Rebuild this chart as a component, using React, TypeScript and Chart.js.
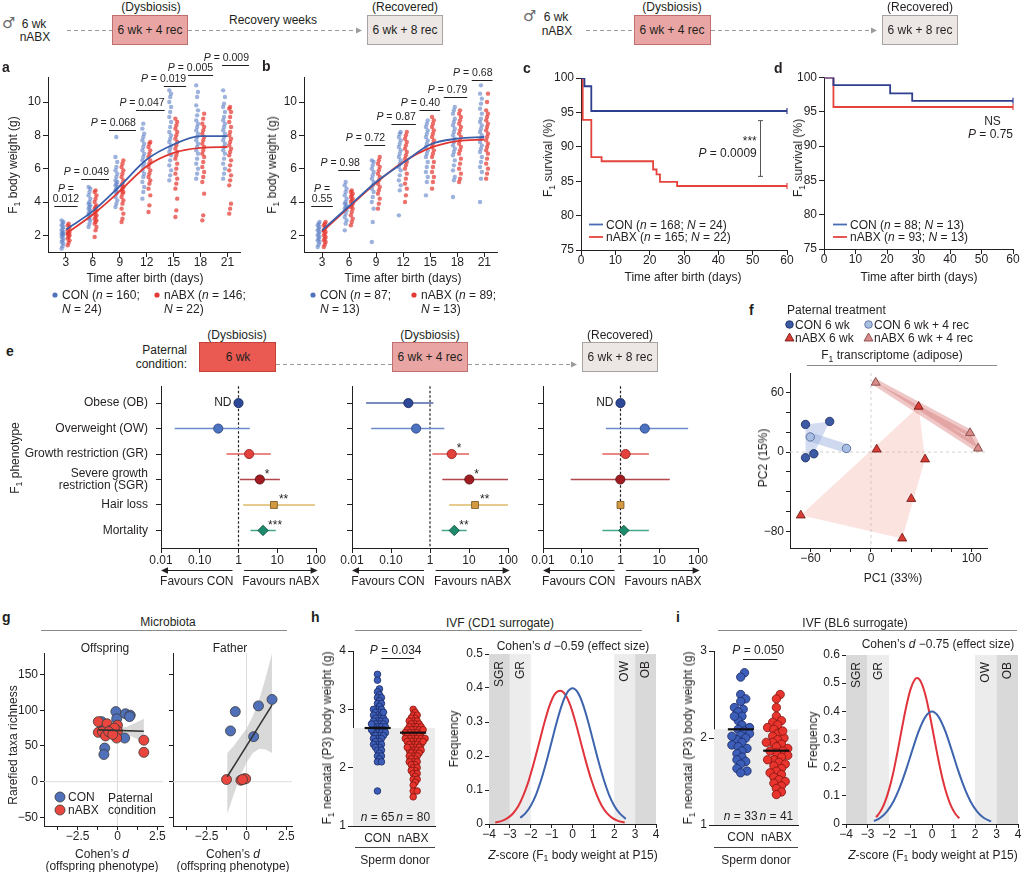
import React, { useEffect, useRef } from 'react';
import { Chart, registerables } from 'chart.js';

Chart.register(...registerables);

const INK = '#231f20';
const FONT = '"Liberation Sans", Arial, Helvetica, sans-serif';
Chart.defaults.font.family = FONT;
Chart.defaults.font.size = 12;
Chart.defaults.color = INK;

// ======================= DATA =======================
// a, b : F1 body weight (g) by day after birth
const days = [3, 6, 9, 12, 15, 18, 21];
const aCon = [
  [1.2, 1.35, 1.5, 1.6, 1.7, 1.8, 1.9, 2.0, 2.05, 2.1, 2.15, 2.2, 2.3, 2.4, 2.5, 2.6, 2.7, 2.8, 2.9],
  [2.5, 2.7, 2.9, 3.0, 3.1, 3.2, 3.3, 3.4, 3.5, 3.6, 3.7, 3.8, 3.9, 4.0, 4.2, 4.4, 4.6, 4.8, 4.9],
  [3.7, 3.9, 4.1, 4.3, 4.5, 4.6, 4.7, 4.8, 4.9, 5.0, 5.1, 5.2, 5.3, 5.5, 5.7, 5.9, 6.1, 6.4, 6.7, 7.9],
  [4.2, 4.6, 4.9, 5.2, 5.5, 5.7, 5.9, 6.1, 6.3, 6.5, 6.7, 6.9, 7.1, 7.3, 7.5, 7.7, 7.9, 8.1, 8.4, 8.7],
  [5.3, 5.6, 5.9, 6.2, 6.5, 6.8, 7.0, 7.2, 7.4, 7.6, 7.8, 8.0, 8.2, 8.5, 8.8, 9.1, 9.4, 9.7, 10.0, 10.3, 10.5, 10.7],
  [5.4, 5.7, 6.0, 6.3, 6.6, 6.9, 7.1, 7.3, 7.5, 7.7, 7.9, 8.1, 8.3, 8.5, 8.7, 8.9, 9.2, 9.5, 9.8, 10.3, 10.6, 11.0],
  [5.4, 5.7, 6.0, 6.3, 6.6, 6.9, 7.1, 7.3, 7.5, 7.7, 7.9, 8.1, 8.3, 8.5, 8.7, 8.9, 9.1, 9.4, 9.7, 9.9, 10.3, 10.7],
];
const aAbx = [
  [1.4, 1.55, 1.7, 1.8, 1.9, 2.0, 2.05, 2.1, 2.2, 2.3, 2.4, 2.5, 2.6, 2.7],
  [1.9, 2.3, 2.5, 2.7, 2.8, 2.9, 3.0, 3.1, 3.2, 3.3, 3.4, 3.5, 3.6, 3.7, 3.8, 4.0, 4.2, 4.4, 4.6, 4.7],
  [2.8, 3.0, 3.3, 3.6, 3.9, 4.1, 4.3, 4.5, 4.6, 4.7, 4.8, 4.9, 5.0, 5.1, 5.3, 5.5, 5.7, 5.9, 6.1, 6.3, 6.5],
  [3.4, 3.8, 4.4, 4.8, 5.1, 5.3, 5.5, 5.7, 5.9, 6.1, 6.3, 6.5, 6.7, 6.9, 7.1, 7.3, 7.5, 7.6],
  [3.1, 3.5, 4.2, 4.8, 5.1, 5.4, 5.7, 6.0, 6.3, 6.6, 6.8, 7.0, 7.2, 7.4, 7.6, 7.8, 8.0, 8.2, 8.4, 8.6, 8.8, 9.0],
  [2.9, 3.2, 4.5, 5.2, 5.5, 5.8, 6.1, 6.4, 6.7, 6.9, 7.1, 7.3, 7.5, 7.7, 7.9, 8.1, 8.3, 8.5, 8.7, 9.0, 9.3],
  [3.3, 3.6, 3.9, 5.0, 5.3, 5.6, 5.9, 6.2, 6.5, 6.8, 7.0, 7.2, 7.4, 7.6, 7.8, 8.0, 8.2, 8.5, 8.8, 9.1, 9.4, 9.6, 9.7],
];
const aConMean = [2.35, 3.45, 4.95, 6.55, 7.45, 7.95, 7.95];
const aAbxMean = [2.1, 3.25, 4.65, 6.15, 6.95, 7.25, 7.3];
const aP = ['0.012', '0.049', '0.068', '0.047', '0.019', '0.005', '0.009'];
const aBarY = [3.74, 5.4, 8.3, 9.5, 10.94, 11.6, 12.2];
const aBarFrom = [1.7, 4.7, 7.8, 10.8, 13.9, 16.6, 20.4];
const aBarTo = [4.3, 7.8, 10.8, 14.0, 16.4, 19.4, 23.4];

const bCon = [
  [1.3, 1.45, 1.6, 1.7, 1.8, 1.9, 2.0, 2.1, 2.2, 2.3, 2.4, 2.5, 2.6, 2.7, 2.8],
  [2.3, 2.7, 2.9, 3.1, 3.3, 3.5, 3.6, 3.7, 3.8, 3.9, 4.0, 4.2, 4.4, 4.6, 4.8, 5.0, 5.2],
  [1.6, 2.8, 3.6, 4.0, 4.3, 4.6, 4.8, 5.0, 5.2, 5.4, 5.6, 5.8, 6.0, 6.2, 6.4, 6.5],
  [3.2, 4.7, 5.0, 5.3, 5.6, 5.9, 6.1, 6.3, 6.5, 6.7, 6.9, 7.1, 7.3, 7.5, 7.7, 7.9, 8.1, 8.2],
  [4.4, 5.2, 5.5, 5.8, 6.1, 6.4, 6.7, 6.9, 7.1, 7.3, 7.5, 7.7, 7.9, 8.1, 8.3, 8.5, 8.7, 8.9],
  [4.3, 5.3, 5.5, 5.9, 6.2, 6.5, 6.8, 7.0, 7.2, 7.4, 7.6, 7.8, 8.0, 8.2, 8.4, 8.6, 8.8, 9.0, 9.3, 9.5, 9.7],
  [4.0, 5.4, 5.8, 6.1, 6.4, 6.7, 7.0, 7.2, 7.4, 7.6, 7.8, 8.0, 8.2, 8.4, 8.6, 8.8, 9.0, 9.3, 9.6, 9.9, 10.2, 10.5, 11.0],
];
const bAbx = [
  [1.3, 1.45, 1.6, 1.7, 1.8, 1.9, 2.0, 2.1, 2.2, 2.3, 2.4, 2.5, 2.6, 2.7, 2.8],
  [2.6, 2.8, 3.0, 3.2, 3.4, 3.6, 3.7, 3.8, 3.9, 4.0, 4.1, 4.2, 4.3, 4.4, 4.5, 4.6, 4.7],
  [3.6, 3.9, 4.2, 4.5, 4.7, 4.9, 5.1, 5.3, 5.5, 5.7, 5.9, 6.1, 6.3, 6.5, 6.7],
  [4.0, 4.4, 4.8, 5.1, 5.4, 5.7, 6.0, 6.2, 6.4, 6.6, 6.8, 7.0, 7.2, 7.4, 7.6, 7.8, 8.0, 8.2],
  [4.8, 5.2, 5.5, 5.8, 6.1, 6.4, 6.7, 6.9, 7.1, 7.3, 7.5, 7.7, 7.9, 8.1, 8.3, 8.5, 8.7, 8.9, 9.1],
  [5.2, 5.4, 5.7, 6.0, 6.3, 6.6, 6.9, 7.1, 7.3, 7.5, 7.7, 7.9, 8.1, 8.3, 8.5, 8.7, 8.9, 9.1, 9.3, 9.5],
  [5.4, 5.7, 6.0, 6.3, 6.6, 6.9, 7.1, 7.3, 7.5, 7.7, 7.9, 8.1, 8.3, 8.5, 8.7, 8.9, 9.1, 9.3, 9.5, 10.0, 10.5],
];
const bConMean = [2.3, 3.75, 5.2, 6.35, 7.45, 7.8, 7.9];
const bAbxMean = [2.2, 3.7, 5.15, 6.4, 7.25, 7.65, 7.75];
const bP = ['0.55', '0.98', '0.72', '0.87', '0.40', '0.79', '0.68'];
const bBarY = [3.74, 5.94, 7.4, 8.7, 9.54, 10.3, 11.3];
const bBarFrom = [1.8, 4.8, 7.7, 10.7, 13.8, 16.5, 19.6];
const bBarTo = [4.2, 7.2, 10.0, 13.4, 16.1, 19.1, 21.9];

// c, d : survival (%)
const cConDays = [0, 1, 3, 60];
const cConSurv = [100, 98.8, 95.2, 95.2];
const cAbxDays = [0, 0.5, 3, 6, 21, 22, 23, 28, 60];
const cAbxSurv = [100, 93.9, 88.5, 87.9, 86.7, 86.0, 84.9, 84.3, 84.3];
const dConDays = [0, 3, 21, 28, 60];
const dConSurv = [100, 98.9, 97.7, 96.6, 96.6];
const dAbxDays = [0, 3, 60];
const dAbxSurv = [100, 95.7, 95.7];

// e : odds ratios (est, CI)
const phenoLabels: any[] = ['Obese (OB)', 'Overweight (OW)', 'Growth restriction (GR)', ['Severe growth', 'restriction (SGR)'], 'Hair loss', 'Mortality'];
const e1Est = [1, 0.3, 1.88, 3.55, 8.2, 4.3];
const e1Lo = [null, 0.0226, 0.49, 1.08, 1.32, 2.04];
const e1Hi = [null, 1.96, 6.8, 11.7, 94, 9.2];
const e1Stars = ['', '', '', '*', '**', '***'];
const e2Est = [0.278, 0.44, 3.6, 10.2, 14.3, 4.2];
const e2Lo = [0.023, 0.031, 1.15, 2.07, 3.1, 2.0];
const e2Hi = [1.22, 2.33, 10, 100, 100, 8.7];
const e2Stars = ['', '', '*', '*', '**', '**'];
const e3Est = [1, 4.24, 1.35, 0.99, 1.0, 1.22];
const e3Lo = [null, 0.42, 0.34, 0.052, null, 0.34];
const e3Hi = [null, 55.6, 5.4, 18.7, null, 5.4];
const e3Stars = ['', '', '', '', '', ''];

// f : PCA (PC1, PC2)
const fConWk = [[-65, 28], [-41, 31], [-56.7, -1.7], [-65, -5.7]];
const fConRec = [[-60.3, 15.3], [-24.3, 3.7]];
const fAbxWk = [[47.3, 46], [5.7, 2.7], [53.7, -7.3], [40, -47.3], [31, -87.3], [-69.7, -64]];
const fAbxRec = [[4.7, 70.3], [98.3, 19.3], [106.3, 3.7]];

// g : Cohen's d vs rarefied richness
const gOffCon = [[-0.1, 98], [0.5, 95], [0.8, 93], [0.75, 91], [-0.05, 88], [-1.0, 84], [-0.85, 77], [0.45, 61], [-0.8, 47], [-0.85, 38], [-0.9, 72]];
const gOffAbx = [[-1.2, 84], [-1.2, 69], [-0.65, 81], [-0.4, 72], [-0.95, 70], [0.0, 79], [0.0, 71], [-0.05, 61], [-0.75, 64], [-0.2, 75], [1.65, 58], [1.65, 41], [-0.55, 70], [-0.3, 66]];
const gOffLineX = [-1.2, 1.65];
const gOffLineY = [72.5, 70.5];
const gOffBandX = [-1.2, -0.6, 0, 0.6, 1.2, 1.65];
const gOffBandLo = [66, 68.5, 69, 66, 60, 54];
const gOffBandHi = [79, 76.5, 75, 77, 83, 88];
const gFatCon = [[-1.0, 71], [-0.7, 98], [0.45, 63], [0.75, 106], [1.6, 115]];
const gFatAbx = [[-1.25, 3], [-0.35, 2], [-0.15, 4], [-0.05, 4], [-0.25, 3]];
const gFatLineX = [-1.2, 1.6];
const gFatLineY = [7, 107];
const gFatBandX = [-1.2, -0.8, -0.4, 0, 0.4, 0.8, 1.2, 1.6];
const gFatBandLo = [-45, -18, 7, 27, 40, 46, 45, 40];
const gFatBandHi = [40, 50, 62, 74, 92, 115, 145, 180];

// h, i : neonatal weights and effect-size densities
const hCon = [3.6, 3.5, 3.35, 3.3, 3.25, 3.2, 3.2, 3.15, 3.1, 3.1, 3.05, 3.0, 3.0, 3.0, 2.95, 2.95, 2.9, 2.9, 2.9, 2.85, 2.85, 2.85, 2.8, 2.8, 2.8, 2.8, 2.75, 2.75, 2.75, 2.7, 2.7, 2.7, 2.7, 2.65, 2.65, 2.65, 2.6, 2.6, 2.6, 2.6, 2.55, 2.55, 2.55, 2.5, 2.5, 2.5, 2.45, 2.45, 2.4, 2.4, 2.4, 2.35, 2.35, 2.3, 2.3, 2.25, 2.2, 2.2, 2.15, 2.1, 2.1, 2.65, 2.75, 1.6, 2.95];
const hAbx = [3.0, 2.95, 2.9, 2.9, 2.85, 2.85, 2.8, 2.8, 2.8, 2.75, 2.75, 2.75, 2.7, 2.7, 2.7, 2.7, 2.65, 2.65, 2.65, 2.65, 2.6, 2.6, 2.6, 2.6, 2.6, 2.55, 2.55, 2.55, 2.55, 2.5, 2.5, 2.5, 2.5, 2.5, 2.45, 2.45, 2.45, 2.45, 2.4, 2.4, 2.4, 2.4, 2.35, 2.35, 2.35, 2.3, 2.3, 2.3, 2.3, 2.25, 2.25, 2.25, 2.2, 2.2, 2.2, 2.15, 2.15, 2.1, 2.1, 2.1, 2.05, 2.05, 2.0, 2.0, 1.95, 1.95, 1.9, 1.9, 1.85, 1.8, 1.8, 1.75, 1.7, 1.6, 1.6, 1.5, 2.65, 2.5, 2.45, 2.35];
const hConMean = 2.68;
const hAbxMean = 2.6;
const iCon = [2.75, 2.7, 2.5, 2.45, 2.42, 2.35, 2.33, 2.3, 2.25, 2.2, 2.15, 2.12, 2.1, 2.08, 2.05, 2.03, 2.0, 1.98, 1.95, 1.92, 1.9, 1.88, 1.85, 1.82, 1.78, 1.75, 1.73, 1.7, 1.65, 1.62, 1.6, 2.25, 2.02];
const iAbx = [2.5, 2.45, 2.35, 2.25, 2.2, 2.18, 2.15, 2.12, 2.1, 2.05, 2.02, 2.0, 1.98, 1.95, 1.93, 1.9, 1.88, 1.85, 1.83, 1.8, 1.78, 1.75, 1.72, 1.7, 1.68, 1.65, 1.62, 1.6, 1.58, 1.55, 1.52, 1.5, 1.48, 1.45, 1.42, 1.38, 1.35, 1.95, 1.85, 1.75, 2.08];
const iConMean = 2.1;
const iAbxMean = 1.854;

const hBlueX = [-2.5, -2.25, -2, -1.75, -1.5, -1.25, -1, -0.75, -0.5, -0.25, 0, 0.25, 0.5, 0.75, 1, 1.25, 1.5, 1.75, 2, 2.25, 2.55];
const hBlueY = [0.018, 0.032, 0.054, 0.086, 0.13, 0.183, 0.242, 0.301, 0.352, 0.387, 0.399, 0.387, 0.352, 0.301, 0.242, 0.183, 0.13, 0.086, 0.054, 0.032, 0.015];
const hRedX = [-3.7, -3.35, -3.1, -2.85, -2.6, -2.35, -2.1, -1.85, -1.6, -1.35, -1.1, -0.85, -0.59, -0.35, -0.1, 0.15, 0.4, 0.65, 0.9, 1.15, 1.4, 1.65, 1.9, 2.15, 2.5];
const hRedY = [0.004, 0.01, 0.018, 0.031, 0.052, 0.085, 0.127, 0.18, 0.238, 0.297, 0.348, 0.382, 0.392, 0.381, 0.348, 0.298, 0.24, 0.182, 0.13, 0.087, 0.054, 0.032, 0.018, 0.01, 0.004];
const iBlueX = [-2.7, -2.4, -2.1, -1.8, -1.5, -1.2, -0.9, -0.6, -0.3, 0, 0.3, 0.6, 0.9, 1.2, 1.5, 1.8, 2.1, 2.4, 2.75];
const iBlueY = [0.0104, 0.0224, 0.044, 0.079, 0.13, 0.194, 0.266, 0.333, 0.381, 0.399, 0.381, 0.333, 0.266, 0.194, 0.13, 0.079, 0.044, 0.0224, 0.009];
const iRedX = [-2.6, -2.4, -2.2, -2.0, -1.8, -1.6, -1.4, -1.2, -1.0, -0.8, -0.69, -0.5, -0.3, -0.1, 0.1, 0.3, 0.5, 0.7, 0.9, 1.1, 1.27];
const iRedY = [0.024, 0.044, 0.0758, 0.122, 0.183, 0.258, 0.339, 0.416, 0.478, 0.513, 0.518, 0.502, 0.456, 0.386, 0.306, 0.227, 0.157, 0.102, 0.0614, 0.0347, 0.0203];

// ======================= LAYOUT =======================
const BOX: any = {
  a: { x: 0, y: 50, w: 262, h: 225 }, b: { x: 262, y: 50, w: 262, h: 225 },
  c: { x: 524, y: 60, w: 275, h: 215 }, d: { x: 775, y: 60, w: 249, h: 215 },
  e1: { x: 20, y: 372, w: 310, h: 218 }, e2: { x: 335, y: 372, w: 190, h: 218 }, e3: { x: 525, y: 372, w: 195, h: 218 },
  f: { x: 740, y: 365, w: 260, h: 207 },
  g1: { x: 0, y: 645, w: 170, h: 205 }, g2: { x: 165, y: 645, w: 135, h: 205 },
  h1: { x: 325, y: 640, w: 120, h: 210 }, h2: { x: 455, y: 640, w: 210, h: 210 },
  i1: { x: 690, y: 640, w: 118, h: 210 }, i2: { x: 812, y: 640, w: 212, h: 210 },
};
const PLOT: any = {
  a: { l: 48, t: 77, r: 240, b: 252 }, b: { l: 304, t: 77, r: 497, b: 252 },
  c: { l: 581, t: 78, r: 787, b: 250 }, d: { l: 824, t: 77.5, r: 1013, b: 249 },
  e1: { l: 161, t: 378, r: 316, b: 548 }, e2: { l: 352, t: 378, r: 508, b: 548 }, e3: { l: 543, t: 378, r: 698, b: 548 },
  f: { l: 790, t: 371, r: 987, b: 548 },
  g1: { l: 44, t: 653, r: 163, b: 826 }, g2: { l: 173, t: 653, r: 292, b: 826 },
  h1: { l: 353, t: 651, r: 435, b: 826 }, h2: { l: 489, t: 654, r: 656, b: 824 },
  i1: { l: 714, t: 651, r: 798, b: 825 }, i2: { l: 846, t: 655, r: 1018, b: 824 },
};

// ======================= HELPERS =======================
const fmt = (v: number) => (v < 0 ? '\u2212' + String(Math.abs(v)) : String(v));

function parts(s: string) {
  const out: any[] = [];
  const re = /_([^_]+)_|~([^~]+)~|([^_~]+)/g;
  let m: any;
  while ((m = re.exec(s))) {
    if (m[1]) out.push({ t: m[1], it: true });
    else if (m[2]) out.push({ t: m[2], sub: true });
    else out.push({ t: m[3] });
  }
  return out;
}
function rich(ctx: any, s: string, x: number, y: number, o: any = {}) {
  const size = o.size || 12;
  const ps = parts(s);
  const fontOf = (p: any) => `${p.it ? 'italic ' : ''}${o.bold ? 'bold ' : ''}${p.sub ? size * 0.72 : size}px ${FONT}`;
  let w = 0;
  ps.forEach((p) => { ctx.font = fontOf(p); p.w = ctx.measureText(p.t).width; w += p.w; });
  ctx.save();
  ctx.translate(x, y);
  if (o.rot) ctx.rotate(o.rot);
  ctx.fillStyle = o.color || INK;
  ctx.textAlign = 'left';
  ctx.textBaseline = 'middle';
  let cx = o.align === 'center' ? -w / 2 : o.align === 'right' ? -w : 0;
  ps.forEach((p) => { ctx.font = fontOf(p); ctx.fillText(p.t, cx, p.sub ? size * 0.28 : 0); cx += p.w; });
  ctx.restore();
}
function seg(ctx: any, x1: number, y1: number, x2: number, y2: number, color = INK, w = 1, dash: number[] = []) {
  ctx.save();
  ctx.strokeStyle = color; ctx.lineWidth = w; ctx.setLineDash(dash);
  ctx.beginPath(); ctx.moveTo(x1, y1); ctx.lineTo(x2, y2); ctx.stroke();
  ctx.restore();
}
function arrow(ctx: any, x1: number, y: number, x2: number) {
  const d = x2 > x1 ? 1 : -1;
  seg(ctx, x1, y, x2 - d * 4, y, INK, 1);
  ctx.save(); ctx.fillStyle = INK; ctx.beginPath();
  ctx.moveTo(x2, y); ctx.lineTo(x2 - d * 7, y - 3.2); ctx.lineTo(x2 - d * 7, y + 3.2); ctx.closePath(); ctx.fill();
  ctx.restore();
}
function hull(pts: number[][]) {
  const p = pts.slice().sort((a, b) => a[0] - b[0] || a[1] - b[1]);
  if (p.length < 3) return p;
  const cross = (o: any, a: any, b: any) => (a[0] - o[0]) * (b[1] - o[1]) - (a[1] - o[1]) * (b[0] - o[0]);
  const lower: any[] = [];
  for (const q of p) { while (lower.length >= 2 && cross(lower[lower.length - 2], lower[lower.length - 1], q) <= 0) lower.pop(); lower.push(q); }
  const upper: any[] = [];
  for (let i = p.length - 1; i >= 0; i--) { const q = p[i]; while (upper.length >= 2 && cross(upper[upper.length - 2], upper[upper.length - 1], q) <= 0) upper.pop(); upper.push(q); }
  upper.pop(); lower.pop();
  return lower.concat(upper);
}
function poly(ctx: any, pts: number[][], fill: string, lw = 0) {
  ctx.save();
  ctx.beginPath();
  pts.forEach((q, i) => (i ? ctx.lineTo(q[0], q[1]) : ctx.moveTo(q[0], q[1])));
  ctx.closePath();
  ctx.fillStyle = fill; ctx.fill();
  if (lw) { ctx.strokeStyle = fill; ctx.lineWidth = lw; ctx.lineJoin = 'round'; ctx.lineCap = 'round'; ctx.stroke(); }
  ctx.restore();
}
// beeswarm layout (horizontal offsets only; values untouched)
function swarm(values: number[], pxY: number, pxX: number, r: number, tight: number) {
  const order = values.map((_, i) => i).sort((a, b) => values[a] - values[b]);
  const placed: any[] = [];
  const offs = values.map(() => 0);
  const step = r * 0.3;
  const dmin = 2 * r * tight;
  for (const i of order) {
    const yp = values[i] * pxY;
    let best = 0;
    for (let k = 0; k < 400; k++) {
      const cand = (k % 2 ? 1 : -1) * Math.ceil(k / 2) * step;
      if (placed.every((p) => (p.x - cand) ** 2 + (p.y - yp) ** 2 >= dmin * dmin)) { best = cand; break; }
    }
    placed.push({ x: best, y: yp });
    offs[i] = best / pxX;
  }
  return offs;
}
function axis(o: any) {
  const ticks: number[] = o.ticks;
  const marks = o.marks !== false;
  return {
    type: o.type || 'linear',
    position: o.pos,
    min: o.min, max: o.max, reverse: !!o.reverse,
    offset: false,
    border: { display: o.border !== false, color: INK, width: 1 },
    grid: { display: true, drawOnChartArea: false, drawTicks: marks, tickLength: marks ? (o.tl ?? 5) : 0, color: INK, lineWidth: 1 },
    ticks: {
      autoSkip: false, maxRotation: 0, minRotation: 0, padding: o.pad ?? 2, color: INK,
      font: { family: FONT, size: o.fs ?? 12, lineHeight: o.lh ?? 1 },
      callback: (_v: any, i: number) => (o.labels ? o.labels[i] : fmt(ticks[i])),
    },
    afterBuildTicks: (s: any) => { s.ticks = ticks.map((v) => ({ value: v })); },
    afterFit: (s: any) => { if (o.pos === 'left') s.width = o.fit; else s.height = o.fit; },
  };
}
function cfg(box: any, plot: any, datasets: any[], xo: any, yo: any, plugins: any[] = []) {
  return {
    type: 'scatter',
    data: { datasets },
    options: {
      responsive: false, animation: false, events: [],
      layout: { padding: { left: 0, top: plot.t - box.y, right: box.x + box.w - plot.r, bottom: 0 } },
      plugins: { legend: { display: false }, tooltip: { enabled: false }, title: { display: false } },
      scales: {
        x: axis({ ...xo, pos: 'bottom', fit: box.y + box.h - plot.b }),
        y: axis({ ...yo, pos: 'left', fit: plot.l - box.x }),
      },
    },
    plugins,
  };
}
const XY = (ch: any) => [(v: number) => ch.scales.x.getPixelForValue(v), (v: number) => ch.scales.y.getPixelForValue(v)];

// ======================= CHART CONFIGS =======================
function growthCfg(k: string, con: number[][], abx: number[][], conMean: number[], abxMean: number[], pv: string[], barY: number[], barFrom: number[], barTo: number[]) {
  const jit = [-0.1, 0, 0.1];
  const conPts: any[] = [];
  const abxPts: any[] = [];
  con.forEach((col, i) => col.forEach((v, j) => conPts.push({ x: days[i] - 0.38 + jit[j % 3], y: v })));
  abx.forEach((col, i) => col.forEach((v, j) => abxPts.push({ x: days[i] + 0.3 + jit[j % 3], y: v })));
  const ds = [
    { type: 'line', data: days.map((d, i) => ({ x: d, y: conMean[i] })), borderColor: '#3a5fab', borderWidth: 1.8, pointRadius: 0, cubicInterpolationMode: 'monotone' },
    { type: 'line', data: days.map((d, i) => ({ x: d, y: abxMean[i] })), borderColor: '#e1362f', borderWidth: 1.8, pointRadius: 0, cubicInterpolationMode: 'monotone' },
    { data: conPts, pointRadius: 2.2, backgroundColor: 'rgba(92,126,196,0.6)', borderWidth: 0 },
    { data: abxPts, pointRadius: 2.2, backgroundColor: 'rgba(229,57,50,0.72)', borderWidth: 0 },
  ];
  const plug = {
    id: 'pv',
    afterDraw(ch: any) {
      const [X, Y] = XY(ch);
      const ctx = ch.ctx;
      pv.forEach((p, i) => {
        const x1 = X(barFrom[i]), x2 = X(barTo[i]), y = Math.round(Y(barY[i])) + 0.5;
        seg(ctx, x1, y, x2, y, INK, 1);
        if (i === 0) {
          rich(ctx, '_P_ =', (x1 + x2) / 2, y - 17.5, { align: 'center', size: 10.5 });
          rich(ctx, p, (x1 + x2) / 2, y - 7.5, { align: 'center', size: 10.5 });
        } else rich(ctx, '_P_ = ' + p, x2, y - 7, { align: 'right', size: 10.5 });
      });
    },
  };
  return cfg(BOX[k], PLOT[k], ds, { min: 1, max: 22.4, ticks: days, tl: 5, pad: 0 }, { min: 1, max: 11.5, ticks: [2, 4, 6, 8, 10], tl: 5, pad: 2 }, [plug]);
}

function survCfg(k: string, conX: number[], conY: number[], abxX: number[], abxY: number[], annot: (ch: any) => void) {
  const ds = [
    { type: 'line', data: conX.map((x, i) => ({ x, y: conY[i] })), stepped: 'before', borderColor: '#2e3f8f', borderWidth: 1.8, pointRadius: 0 },
    { type: 'line', data: abxX.map((x, i) => ({ x, y: abxY[i] })), stepped: 'before', borderColor: '#e4443c', borderWidth: 1.8, pointRadius: 0 },
  ];
  const plug = {
    id: 'surv',
    afterDraw(ch: any) {
      const [X, Y] = XY(ch);
      seg(ch.ctx, X(60), Y(conY[conY.length - 1]) - 3, X(60), Y(conY[conY.length - 1]) + 3, '#2e3f8f', 1.2);
      seg(ch.ctx, X(60), Y(abxY[abxY.length - 1]) - 3, X(60), Y(abxY[abxY.length - 1]) + 3, '#e4443c', 1.2);
      annot(ch);
    },
  };
  return cfg(BOX[k], PLOT[k], ds, { min: 0, max: 60, ticks: [0, 10, 20, 30, 40, 50, 60], tl: 5, pad: 0 }, { min: 75, max: 100, ticks: [75, 80, 85, 90, 95, 100], tl: 5, pad: 2 }, [plug]);
}

const rowFill = ['#2c4896', '#4c72c1', '#e3413b', '#a11c21', '#d49a42', '#1e8b6d'];
const rowEdge = ['#142457', '#243f7c', '#8c1d19', '#560c0f', '#73501c', '#0c4536'];
const rowLine = ['#4b67a6', '#6c8ccc', '#e6605a', '#b0474a', '#dcbb69', '#45a88d'];
const rowShape = ['circle', 'circle', 'circle', 'circle', 'rect', 'rectRot'];
const rowRad = [4.6, 4.6, 4.6, 4.6, 4.9, 5.2];

function forestCfg(k: string, est: number[], lo: any[], hi: any[], stars: string[], nd: number[], showLabels: boolean) {
  const ds: any[] = [
    { data: est.map((v, r) => ({ x: v, y: r })), pointStyle: rowShape, pointRadius: rowRad, backgroundColor: rowFill, borderColor: rowEdge, borderWidth: 0.8 },
  ];
  est.forEach((_, r) => {
    if (lo[r] != null) ds.push({ type: 'line', data: [{ x: lo[r], y: r }, { x: hi[r], y: r }], borderColor: rowLine[r], borderWidth: 1.5, pointRadius: 0 });
  });
  const plug = {
    id: 'forest',
    beforeDatasetsDraw(ch: any) {
      const [X] = XY(ch);
      const ca = ch.chartArea;
      seg(ch.ctx, X(1), ca.top, X(1), ca.bottom, INK, 1.2, [2.5, 2]);
    },
    afterDraw(ch: any) {
      const [X, Y] = XY(ch);
      const ctx = ch.ctx, ca = ch.chartArea;
      est.forEach((v, r) => { if (stars[r]) rich(ctx, stars[r], X(v) + 5, Y(r) - 5, { size: 12 }); });
      nd.forEach((r) => rich(ctx, 'ND', X(est[r]) - 7, Y(r), { align: 'right' }));
      const ay = Math.round(ca.bottom + 22) + 0.5;
      arrow(ctx, X(0.7), ay, X(0.01));
      arrow(ctx, X(1.4), ay, X(110));
      rich(ctx, 'Favours CON', (X(0.7) + X(0.01)) / 2, ca.bottom + 34, { align: 'center' });
      rich(ctx, 'Favours nABX', (X(1.4) + X(110)) / 2, ca.bottom + 34, { align: 'center' });
    },
  };
  return cfg(BOX[k], PLOT[k], ds,
    { type: 'logarithmic', min: 0.01, max: 100, ticks: [0.01, 0.1, 1, 10, 100], labels: ['0.01', '0.10', '1', '10', '100'], tl: 5, pad: 2 },
    { min: -0.66, max: 5.69, reverse: true, ticks: [0, 1, 2, 3, 4, 5], labels: showLabels ? phenoLabels : ['', '', '', '', '', ''], tl: 5, pad: 8, lh: 1.05 },
    [plug]);
}

function pcaCfg() {
  const toP = (a: number[][]) => a.map(([x, y]) => ({ x, y }));
  const ds = [
    { data: toP(fAbxRec), pointStyle: 'triangle', pointRadius: 5.2, backgroundColor: '#d88c89', borderColor: '#7a3e3c', borderWidth: 0.8 },
    { data: toP(fAbxWk), pointStyle: 'triangle', pointRadius: 5.2, backgroundColor: '#d73c35', borderColor: '#6a1411', borderWidth: 0.8 },
    { data: toP(fConRec), pointStyle: 'circle', pointRadius: 4.2, backgroundColor: '#a8bee2', borderColor: '#4d6190', borderWidth: 0.8 },
    { data: toP(fConWk), pointStyle: 'circle', pointRadius: 4.2, backgroundColor: '#3c59a4', borderColor: '#17275a', borderWidth: 0.8 },
  ];
  const plug = {
    id: 'pca',
    beforeDatasetsDraw(ch: any) {
      const [X, Y] = XY(ch);
      const ctx = ch.ctx, ca = ch.chartArea;
      seg(ctx, X(0), ca.top, X(0), ca.bottom, '#d0d0d0', 1, [3, 3]);
      seg(ctx, ca.left, Y(0), ca.right, Y(0), '#d0d0d0', 1, [3, 3]);
      const px = (a: number[][]) => a.map(([x, y]) => [X(x), Y(y)]);
      poly(ctx, hull(px(fAbxWk)), 'rgba(244,168,158,0.32)');
      poly(ctx, hull(px(fAbxRec)), 'rgba(214,122,120,0.42)', 7);
      poly(ctx, hull(px(fConWk)), 'rgba(158,178,224,0.45)');
      poly(ctx, hull(px(fConRec)), 'rgba(158,178,224,0.5)', 9);
    },
  };
  const xt = [-60, -40, -20, 0, 20, 40, 60, 80, 100];
  const yt = [-80, -60, -40, -20, 0, 20, 40, 60];
  return cfg(BOX.f, PLOT.f, ds,
    { min: -80.4, max: 115.2, ticks: xt, labels: xt.map((v) => ([-60, 0, 100].includes(v) ? fmt(v) : '')), tl: 4, pad: 1 },
    { min: -97, max: 80, ticks: yt, labels: yt.map((v) => ([-80, 0, 60].includes(v) ? fmt(v) : '')), tl: 4, pad: 2 },
    [plug]);
}

function gCfg(k: string, con: number[][], abx: number[][], lx: number[], ly: number[], bx: number[], blo: number[], bhi: number[], showY: boolean) {
  const toP = (a: number[][]) => a.map(([x, y]) => ({ x, y }));
  const ds = [
    { type: 'line', data: lx.map((x, i) => ({ x, y: ly[i] })), borderColor: '#333333', borderWidth: 1.6, pointRadius: 0 },
    { data: toP(abx), pointRadius: 5, backgroundColor: '#e9463f', borderColor: '#3a3a3a', borderWidth: 0.8 },
    { data: toP(con), pointRadius: 5, backgroundColor: '#5070b9', borderColor: '#3a3a3a', borderWidth: 0.8 },
  ];
  const plug = {
    id: 'g',
    beforeDatasetsDraw(ch: any) {
      const [X, Y] = XY(ch);
      const ctx = ch.ctx, ca = ch.chartArea;
      seg(ctx, X(0), ca.top, X(0), ca.bottom, '#dddddd', 1);
      seg(ctx, ca.left, Y(0), ca.right, Y(0), '#dddddd', 1);
      const pts = bx.map((x, i) => [X(x), Y(bhi[i])]).concat(bx.map((x, i) => [X(x), Y(blo[i])]).reverse());
      poly(ctx, pts, 'rgba(185,185,185,0.55)');
    },
  };
  const xt = [-3.75, -2.5, -1.25, 0, 1.25, 2.5];
  const yt = [-50, 0, 50, 100, 150];
  return cfg(BOX[k], PLOT[k], ds,
    { min: -4.6, max: 2.85, ticks: xt, labels: ['', '\u22122.5', '', '0', '', '2.5'], tl: 4, pad: 1 },
    { min: -62, max: 180, ticks: yt, labels: showY ? yt.map(fmt) : ['', '', '', '', ''], tl: 4, pad: 2 },
    [plug]);
}

function dotCfg(k: string, con: number[], abx: number[], conMean: number, abxMean: number, pText: string, pY: number, barY: number, barFrom: number, barTo: number, yMax: number, yTicks: number[], r: number, tight: number, nCon: string, nAbx: string) {
  const box = BOX[k], plot = PLOT[k];
  const pxY = (plot.b - plot.t) / (yMax - 1);
  const xMin = k === 'h1' ? -0.685 : -0.748;
  const xMax = k === 'h1' ? 1.61 : 1.605;
  const pxX = (plot.r - plot.l) / (xMax - xMin);
  const oc = swarm(con, pxY, pxX, r, tight);
  const oa = swarm(abx, pxY, pxX, r, tight);
  const ds = [
    { type: 'line', data: [{ x: -0.36, y: conMean }, { x: 0.37, y: conMean }], borderColor: '#111111', borderWidth: 2.2, pointRadius: 0 },
    { type: 'line', data: [{ x: 0.63, y: abxMean }, { x: 1.36, y: abxMean }], borderColor: '#111111', borderWidth: 2.2, pointRadius: 0 },
    { data: con.map((v, i) => ({ x: oc[i], y: v })), pointRadius: r, backgroundColor: '#3d5eb8', borderColor: '#1b2a63', borderWidth: 0.8 },
    { data: abx.map((v, i) => ({ x: 1 + oa[i], y: v })), pointRadius: r, backgroundColor: '#e8342d', borderColor: '#7d1410', borderWidth: 0.8 },
  ];
  const plug = {
    id: 'dot',
    beforeDatasetsDraw(ch: any) {
      const [, Y] = XY(ch);
      const ca = ch.chartArea;
      ch.ctx.save(); ch.ctx.fillStyle = '#ececec';
      ch.ctx.fillRect(ca.left, Y(conMean), ca.right - ca.left, Y(1) - Y(conMean));
      ch.ctx.restore();
    },
    afterDraw(ch: any) {
      const [X, Y] = XY(ch);
      const ctx = ch.ctx, ca = ch.chartArea;
      const y = Math.round(Y(barY)) + 0.5;
      seg(ctx, X(barFrom), y, X(barTo), y, INK, 1);
      rich(ctx, '_P_ = ' + pText, (X(barFrom) + X(barTo)) / 2 - 2, Y(pY), { align: 'center' });
      rich(ctx, '_n_ = ' + nCon, X(0), ca.bottom - 8.5, { align: 'center' });
      rich(ctx, '_n_ = ' + nAbx, X(1), ca.bottom - 8.5, { align: 'center' });
    },
  };
  return cfg(box, plot, ds,
    { min: xMin, max: xMax, ticks: [0, 1], labels: ['CON', 'nABX'], marks: false, pad: 7 },
    { min: 1, max: yMax, ticks: yTicks, tl: 5, pad: 2 },
    [plug]);
}

function densCfg(k: string, bx: number[], by: number[], rx: number[], ry: number[], yMax: number, yTicks: number[]) {
  const ds = [
    { type: 'line', data: bx.map((x, i) => ({ x, y: by[i] })), borderColor: '#3d64ad', borderWidth: 2, pointRadius: 0, cubicInterpolationMode: 'monotone' },
    { type: 'line', data: rx.map((x, i) => ({ x, y: ry[i] })), borderColor: '#e0333b', borderWidth: 2, pointRadius: 0, cubicInterpolationMode: 'monotone' },
  ];
  const plug = {
    id: 'dens',
    beforeDatasetsDraw(ch: any) {
      const [X] = XY(ch);
      const ctx = ch.ctx, ca = ch.chartArea;
      const bands = [[-4, -3, '#d9d9d9', 'SGR'], [-3, -2, '#ececec', 'GR'], [2, 3, '#ececec', 'OW'], [3, 4, '#d9d9d9', 'OB']];
      bands.forEach(([a, b, c]: any) => { ctx.save(); ctx.fillStyle = c; ctx.fillRect(X(a), ca.top, X(b) - X(a), ca.bottom - ca.top); ctx.restore(); });
      bands.forEach(([a, b, , t]: any) => rich(ctx, t, (X(a) + X(b)) / 2, ca.top + 7, { rot: -Math.PI / 2, align: 'right' }));
    },
  };
  return cfg(BOX[k], PLOT[k], ds,
    { min: -4, max: 4, ticks: [-4, -3, -2, -1, 0, 1, 2, 3, 4], tl: 4, pad: 1 },
    { min: 0, max: yMax, ticks: yTicks, labels: yTicks.map((v) => (v === 0 ? '0' : v.toFixed(1))), tl: 4, pad: 2 },
    [plug]);
}

// ======================= COMPONENTS =======================
function ChartBox({ b, make }: any) {
  const ref = useRef<HTMLCanvasElement>(null);
  useEffect(() => {
    const ch = new Chart(ref.current as any, make());
    return () => ch.destroy();
  }, []);
  return <canvas ref={ref} width={b.w} height={b.h} style={{ position: 'absolute', left: b.x, top: b.y, width: b.w, height: b.h }} />;
}

function richNodes(s: string) {
  return parts(s).map((p, i) =>
    p.it ? <i key={i}>{p.t}</i> : p.sub ? <span key={i} style={{ fontSize: '0.72em', position: 'relative', top: '0.3em' }}>{p.t}</span> : <span key={i}>{p.t}</span>
  );
}

function T({ x, y, s, a = 'left', size = 12, rot = false, bold = false, color = INK, family = FONT }: any) {
  const tx = rot || a === 'center' ? '-50%' : a === 'right' ? '-100%' : '0';
  return (
    <div style={{ position: 'absolute', left: x, top: y, transform: `translate(${tx}, -50%)${rot ? ' rotate(-90deg)' : ''}`, whiteSpace: 'nowrap', fontSize: size, lineHeight: 1, fontFamily: family, fontWeight: bold ? 700 : 400, color }}>
      {richNodes(s)}
    </div>
  );
}

const annotC = (ch: any) => {
  const [X, Y] = XY(ch);
  const ctx = ch.ctx;
  const x = Math.round(X(52)) + 0.5;
  seg(ctx, x, Y(93.8), x, Y(85.7), '#555', 1);
  seg(ctx, x - 2.5, Y(93.8), x + 2.5, Y(93.8), '#555', 1);
  seg(ctx, x - 2.5, Y(85.7), x + 2.5, Y(85.7), '#555', 1);
  rich(ctx, '***', X(51.2), Y(90.75), { align: 'right' });
  rich(ctx, '_P_ = 0.0009', X(51.2), Y(88.95), { align: 'right' });
};
const annotD = (ch: any) => {
  const [X, Y] = XY(ch);
  rich(ch.ctx, 'NS', X(53.5), Y(93.5), { align: 'center' });
  rich(ch.ctx, '_P_ = 0.75', X(60), Y(91.6), { align: 'right' });
};

const MALE = '\u2642\uFE0E';
const SYMFONT = '"DejaVu Sans", "Liberation Sans", sans-serif';

export default function App() {
  const dash = { stroke: '#9b9b9b', strokeWidth: 1, strokeDasharray: '4 3' };
  const rule = { stroke: '#8a8a8a', strokeWidth: 1 };
  return (
    <div style={{ position: 'absolute', left: 0, top: 0, width: 1024, height: 872, background: '#fff', overflow: 'hidden', fontFamily: FONT, color: INK }}>
      <svg width={1024} height={872} style={{ position: 'absolute', left: 0, top: 0 }}>
        {/* schematic a-b */}
        <line x1={67} y1={30.5} x2={112} y2={30.5} {...dash} />
        <line x1={188} y1={30.5} x2={357} y2={30.5} {...dash} />
        <polygon points="356,27.5 362,30.5 356,33.5" fill="#9b9b9b" />
        <rect x={112.5} y={15.5} width={75} height={29} fill="#e8a5a3" stroke="#bf6f6d" />
        <rect x={367.5} y={15.5} width={75} height={29} fill="#ece6e5" stroke="#a8a2a1" />
        {/* schematic c-d */}
        <line x1={586} y1={30.5} x2={634} y2={30.5} {...dash} />
        <line x1={711} y1={30.5} x2={872} y2={30.5} {...dash} />
        <polygon points="871,27.5 877,30.5 871,33.5" fill="#9b9b9b" />
        <rect x={634.5} y={15.5} width={76} height={29} fill="#e8a5a3" stroke="#bf6f6d" />
        <rect x={882.5} y={15.5} width={75} height={29} fill="#ece6e5" stroke="#a8a2a1" />
        {/* legends a, b */}
        <circle cx={55} cy={295} r={2.6} fill="#4f74bd" />
        <circle cx={157} cy={295} r={2.6} fill="#e23b35" />
        <circle cx={313} cy={295} r={2.6} fill="#4f74bd" />
        <circle cx={414} cy={295} r={2.6} fill="#e23b35" />
        {/* legends c, d */}
        <line x1={589} y1={224.5} x2={603} y2={224.5} stroke="#4a6cb5" strokeWidth={1.8} />
        <line x1={589} y1={237} x2={603} y2={237} stroke="#e4443c" strokeWidth={1.8} />
        <line x1={833} y1={224.5} x2={847} y2={224.5} stroke="#4a6cb5" strokeWidth={1.8} />
        <line x1={833} y1={237} x2={847} y2={237} stroke="#e4443c" strokeWidth={1.8} />
        {/* e schematic */}
        <line x1={276} y1={364.5} x2={392} y2={364.5} {...dash} />
        <line x1={468} y1={364.5} x2={572} y2={364.5} {...dash} />
        <polygon points="571,361.5 577,364.5 571,367.5" fill="#9b9b9b" />
        <rect x={199.5} y={342.5} width={76} height={29} fill="#ea5a52" stroke="#c4423b" />
        <rect x={392.5} y={342.5} width={75} height={29} fill="#e8a5a3" stroke="#bf6f6d" />
        <rect x={582.5} y={342.5} width={75} height={29} fill="#ece6e5" stroke="#a8a2a1" />
        {/* f legend */}
        <circle cx={789.5} cy={324.5} r={3.8} fill="#3c59a4" stroke="#17275a" strokeWidth={0.8} />
        <circle cx={868.5} cy={324.5} r={3.8} fill="#a8bee2" stroke="#4d6190" strokeWidth={0.8} />
        <polygon points="789.5,333 794,341 785,341" fill="#d73c35" stroke="#6a1411" strokeWidth={0.8} />
        <polygon points="868.5,333 873,341 864,341" fill="#d88c89" stroke="#7a3e3c" strokeWidth={0.8} />
        <line x1={807} y1={365.5} x2={997} y2={365.5} {...rule} />
        {/* g */}
        <line x1={41} y1={630.5} x2={287} y2={630.5} {...rule} />
        <circle cx={60} cy={797} r={5} fill="#5070b9" stroke="#3a3a3a" strokeWidth={0.8} />
        <circle cx={60} cy={810} r={5} fill="#e9463f" stroke="#3a3a3a" strokeWidth={0.8} />
        {/* h, i */}
        <line x1={355} y1={630.5} x2={642} y2={630.5} {...rule} />
        <line x1={355} y1={847.5} x2={435} y2={847.5} stroke="#444" strokeWidth={1} />
        <line x1={718} y1={630.5} x2={1017} y2={630.5} {...rule} />
        <line x1={714} y1={847.5} x2={798} y2={847.5} stroke="#444" strokeWidth={1} />
      </svg>

      <ChartBox b={BOX.a} make={() => growthCfg('a', aCon, aAbx, aConMean, aAbxMean, aP, aBarY, aBarFrom, aBarTo)} />
      <ChartBox b={BOX.b} make={() => growthCfg('b', bCon, bAbx, bConMean, bAbxMean, bP, bBarY, bBarFrom, bBarTo)} />
      <ChartBox b={BOX.c} make={() => survCfg('c', cConDays, cConSurv, cAbxDays, cAbxSurv, annotC)} />
      <ChartBox b={BOX.d} make={() => survCfg('d', dConDays, dConSurv, dAbxDays, dAbxSurv, annotD)} />
      <ChartBox b={BOX.e1} make={() => forestCfg('e1', e1Est, e1Lo, e1Hi, e1Stars, [0], true)} />
      <ChartBox b={BOX.e2} make={() => forestCfg('e2', e2Est, e2Lo, e2Hi, e2Stars, [], false)} />
      <ChartBox b={BOX.e3} make={() => forestCfg('e3', e3Est, e3Lo, e3Hi, e3Stars, [0], false)} />
      <ChartBox b={BOX.f} make={() => pcaCfg()} />
      <ChartBox b={BOX.g1} make={() => gCfg('g1', gOffCon, gOffAbx, gOffLineX, gOffLineY, gOffBandX, gOffBandLo, gOffBandHi, true)} />
      <ChartBox b={BOX.g2} make={() => gCfg('g2', gFatCon, gFatAbx, gFatLineX, gFatLineY, gFatBandX, gFatBandLo, gFatBandHi, false)} />
      <ChartBox b={BOX.h1} make={() => dotCfg('h1', hCon, hAbx, hConMean, hAbxMean, '0.034', 4.0, 3.876, 0.11, 1.02, 4, [1, 2, 3, 4], 3.3, 0.5, '65', '80')} />
      <ChartBox b={BOX.h2} make={() => densCfg('h2', hBlueX, hBlueY, hRedX, hRedY, 0.5, [0, 0.1, 0.2, 0.3, 0.4, 0.5])} />
      <ChartBox b={BOX.i1} make={() => dotCfg('i1', iCon, iAbx, iConMean, iAbxMean, '0.050', 3.0, 2.908, 0.064, 1.028, 3, [1, 2, 3], 4.2, 0.66, '33', '41')} />
      <ChartBox b={BOX.i2} make={() => densCfg('i2', iBlueX, iBlueY, iRedX, iRedY, 0.6, [0, 0.1, 0.2, 0.3, 0.4, 0.5, 0.6])} />

      {/* schematic texts */}
      <T x={2} y={23} s={MALE} size={15} color="#6a6a6a" family={SYMFONT} />
      <T x={34} y={23.5} s="6 wk" a="center" />
      <T x={35} y={37} s="nABX" a="center" />
      <T x={150} y={30} s="6 wk + 4 rec" a="center" />
      <T x={151} y={7} s="(Dysbiosis)" a="center" />
      <T x={273} y={20} s="Recovery weeks" a="center" />
      <T x={405} y={30} s="6 wk + 8 rec" a="center" />
      <T x={405} y={7} s="(Recovered)" a="center" />
      <T x={523} y={16} s={MALE} size={15} color="#6a6a6a" family={SYMFONT} />
      <T x={556} y={17} s="6 wk" a="center" />
      <T x={557} y={31} s="nABX" a="center" />
      <T x={672} y={30} s="6 wk + 4 rec" a="center" />
      <T x={672} y={7} s="(Dysbiosis)" a="center" />
      <T x={920} y={30} s="6 wk + 8 rec" a="center" />
      <T x={920} y={7} s="(Recovered)" a="center" />

      {/* panel letters */}
      <T x={2} y={67} s="a" size={14} bold />
      <T x={262} y={66} s="b" size={14} bold />
      <T x={523} y={68} s="c" size={14} bold />
      <T x={774} y={68} s="d" size={14} bold />
      <T x={6} y={351} s="e" size={14} bold />
      <T x={749} y={310} s="f" size={14} bold />
      <T x={2} y={617} s="g" size={14} bold />
      <T x={311} y={617} s="h" size={14} bold />
      <T x={676} y={617} s="i" size={14} bold />

      {/* a, b */}
      <T x={13} y={165} s="F~1~ body weight (g)" rot />
      <T x={145} y={278} s="Time after birth (days)" a="center" />
      <T x={62} y={295} s="CON (_n_ = 160;" />
      <T x={62} y={308.5} s="_N_ = 24)" />
      <T x={164} y={295} s="nABX (_n_ = 146;" />
      <T x={164} y={308.5} s="_N_ = 22)" />
      <T x={272} y={165} s="F~1~ body weight (g)" rot />
      <T x={403} y={278} s="Time after birth (days)" a="center" />
      <T x={320} y={295} s="CON (_n_ = 87;" />
      <T x={320} y={308.5} s="_N_ = 13)" />
      <T x={421} y={295} s="nABX (_n_ = 89;" />
      <T x={421} y={308.5} s="_N_ = 13)" />

      {/* c, d */}
      <T x={548} y={158} s="F~1~ survival (%)" rot />
      <T x={683} y={277} s="Time after birth (days)" a="center" />
      <T x={606} y={224.5} s="CON (_n_ = 168; _N_ = 24)" />
      <T x={606} y={237} s="nABX (_n_ = 165; _N_ = 22)" />
      <T x={798} y={158} s="F~1~ survival (%)" rot />
      <T x={919} y={277} s="Time after birth (days)" a="center" />
      <T x={850} y={224.5} s="CON (_n_ = 88; _N_ = 13)" />
      <T x={850} y={237} s="nABX (_n_ = 93; _N_ = 13)" />

      {/* e */}
      <T x={237} y={335} s="(Dysbiosis)" a="center" />
      <T x={238} y={357} s="6 wk" a="center" />
      <T x={187} y={350} s="Paternal" a="right" />
      <T x={187} y={364} s="condition:" a="right" />
      <T x={430} y={335} s="(Dysbiosis)" a="center" />
      <T x={430} y={357} s="6 wk + 4 rec" a="center" />
      <T x={620} y={335} s="(Recovered)" a="center" />
      <T x={620} y={357} s="6 wk + 8 rec" a="center" />
      <T x={15} y={458} s="F~1~ phenotype" rot />

      {/* f */}
      <T x={787} y={310} s="Paternal treatment" />
      <T x={795} y={324.5} s="CON 6 wk" />
      <T x={874} y={324.5} s="CON 6 wk + 4 rec" />
      <T x={795} y={337.5} s="nABX 6 wk" />
      <T x={874} y={337.5} s="nABX 6 wk + 4 rec" />
      <T x={892} y={355} s="F~1~ transcriptome (adipose)" a="center" />
      <T x={763} y={458} s="PC2 (15%)" rot />
      <T x={893} y={578} s="PC1 (33%)" a="center" />

      {/* g */}
      <T x={168} y={622} s="Microbiota" a="center" />
      <T x={105} y={647.5} s="Offspring" a="center" />
      <T x={230} y={647.5} s="Father" a="center" />
      <T x={102} y={853.5} s="Cohen’s _d_" a="center" />
      <T x={102} y={865.5} s="(offspring phenotype)" a="center" />
      <T x={233} y={853.5} s="Cohen’s _d_" a="center" />
      <T x={233} y={865.5} s="(offspring phenotype)" a="center" />
      <T x={13} y={745} s="Rarefied taxa richness" rot />
      <T x={68} y={797} s="CON" />
      <T x={68} y={810} s="nABX" />
      <T x={108} y={797.5} s="Paternal" />
      <T x={108} y={810} s="condition" />

      {/* h */}
      <T x={500} y={622.5} s="IVF (CD1 surrogate)" a="center" />
      <T x={395} y={859.5} s="Sperm donor" a="center" />
      <T x={327} y={738} s="F~1~ neonatal (P3) body weight (g)" rot />
      <T x={573} y={645.5} s="Cohen’s _d_ −0.59 (effect size)" a="center" />
      <T x={454} y={739} s="Frequency" rot />
      <T x={573} y={854.5} s="_Z_-score (F~1~ body weight at P15)" a="center" />

      {/* i */}
      <T x={855} y={622.5} s="IVF (BL6 surrogate)" a="center" />
      <T x={756} y={859.5} s="Sperm donor" a="center" />
      <T x={688} y={738} s="F~1~ neonatal (P3) body weight (g)" rot />
      <T x={938} y={643.5} s="Cohen’s _d_ −0.75 (effect size)" a="center" />
      <T x={813} y={740} s="Frequency" rot />
      <T x={933} y={854.5} s="_Z_-score (F~1~ body weight at P15)" a="center" />
    </div>
  );
}
